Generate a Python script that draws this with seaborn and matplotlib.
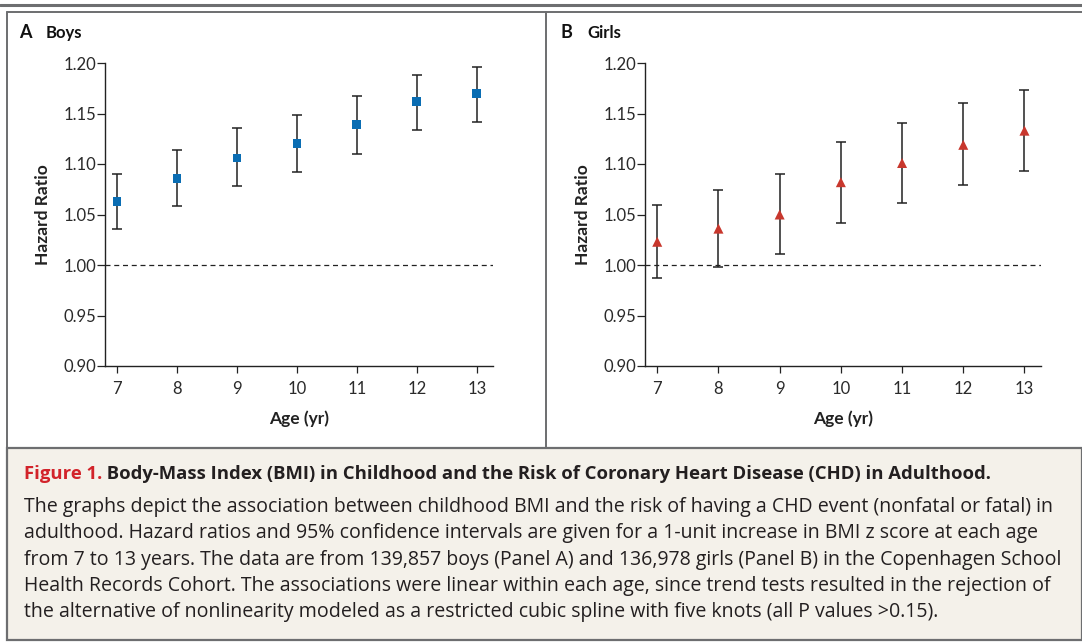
import matplotlib
matplotlib.use("Agg")
import matplotlib.pyplot as plt
import seaborn as sns
import pandas as pd
from matplotlib.patches import Rectangle
from matplotlib.lines import Line2D

ages = [7, 8, 9, 10, 11, 12, 13]
boys_hr = [1.063, 1.086, 1.106, 1.120, 1.139, 1.162, 1.170]
boys_lo = [1.036, 1.058, 1.078, 1.092, 1.110, 1.134, 1.142]
boys_hi = [1.090, 1.114, 1.136, 1.149, 1.167, 1.188, 1.196]
girls_hr = [1.023, 1.036, 1.050, 1.082, 1.101, 1.119, 1.133]
girls_lo = [0.987, 0.998, 1.011, 1.042, 1.061, 1.079, 1.093]
girls_hi = [1.059, 1.074, 1.090, 1.122, 1.141, 1.160, 1.173]
yticks = [0.90, 0.95, 1.00, 1.05, 1.10, 1.15, 1.20]

caption_title = "Body-Mass Index (BMI) in Childhood and the Risk of Coronary Heart Disease (CHD) in Adulthood."
caption_lines = [
    "The graphs depict the association between childhood BMI and the risk of having a CHD event (nonfatal or fatal) in",
    "adulthood. Hazard ratios and 95% confidence intervals are given for a 1-unit increase in BMI z score at each age",
    "from 7 to 13 years. The data are from 139,857 boys (Panel A) and 136,978 girls (Panel B) in the Copenhagen School",
    "Health Records Cohort. The associations were linear within each age, since trend tests resulted in the rejection of",
    "the alternative of nonlinearity modeled as a restricted cubic spline with five knots (all P values >0.15).",
]

sns.set_theme(style="ticks")
plt.rcParams["font.family"] = ["Lato", "DejaVu Sans"]

W, H = 1082, 643
fig = plt.figure(figsize=(W / 100, H / 100), dpi=100)

# background frame drawn in pixel coordinates
bg = fig.add_axes([0, 0, 1, 1], zorder=-1)
bg.set_xlim(0, W)
bg.set_ylim(H, 0)
bg.axis("off")
frame = "#6d6e70"
bg.add_line(Line2D([0, W], [5, 5], color=frame, lw=2.2))
bg.add_line(Line2D([7, W], [12, 12], color=frame, lw=1.4))
bg.add_line(Line2D([7, 7], [12, 448], color=frame, lw=1.4))
bg.add_line(Line2D([546, 546], [12, 448], color=frame, lw=1.4))
bg.add_patch(Rectangle((7, 448), W - 7, 192, facecolor="#f4f1ea",
                       edgecolor=frame, lw=1.6))

panels = [
    ("A", "Boys", boys_hr, boys_lo, boys_hi, "#0a6db3", "s", 40,
     [105 / W, 1 - 366 / H, 388 / W, 303 / H], (19, 46)),
    ("B", "Girls", girls_hr, girls_lo, girls_hi, "#c8372d", "^", 52,
     [645 / W, 1 - 366 / H, 396 / W, 303 / H], (561, 587)),
]

for letter, name, hr, lo, hi, color, marker, size, rect, tx in panels:
    ax = fig.add_axes(rect)
    df = pd.DataFrame({"age": ages, "hr": hr, "lo": lo, "hi": hi})
    ax.axhline(1.0, color="#222222", lw=0.9, ls=(0, (4, 3)), zorder=1)
    ax.errorbar(df["age"], df["hr"],
                yerr=[df["hr"] - df["lo"], df["hi"] - df["hr"]],
                fmt="none", ecolor="#222222", elinewidth=1.1,
                capsize=3.6, capthick=1.1, zorder=2)
    sns.scatterplot(data=df, x="age", y="hr", marker=marker, s=size,
                    color=color, edgecolor="none", linewidth=0, ax=ax,
                    zorder=3)
    ax.set_xlim(6.8, 13.27)
    ax.set_ylim(0.90, 1.20)
    ax.set_xticks(ages)
    ax.set_yticks(yticks)
    ax.set_yticklabels([f"{v:.2f}" for v in yticks])
    ax.tick_params(axis="both", labelsize=12, colors="#222222",
                   labelcolor="#2a2a2a", width=0.9)
    ax.tick_params(axis="y", length=5.5, pad=1)
    ax.tick_params(axis="x", length=5, pad=5.5)
    for s in ["left", "bottom"]:
        ax.spines[s].set_linewidth(1.0)
        ax.spines[s].set_color("#222222")
    sns.despine(ax=ax)
    ax.set_xlabel("Age (yr)", fontsize=12.5, fontweight="bold",
                  color="#222222", labelpad=10)
    ax.set_ylabel("Hazard Ratio", fontsize=12.5, fontweight="bold",
                  color="#222222", labelpad=9)
    bg.text(tx[0], 33, letter, fontsize=13, fontweight="bold",
            color="#111111", va="center", ha="left")
    bg.text(tx[1], 33, name, fontsize=12, fontweight="bold",
            color="#111111", va="center", ha="left")

cap_font = ["Open Sans", "DejaVu Sans"]
t1 = bg.text(24, 474, "Figure 1.", fontsize=13.3, fontweight="bold",
             color="#d2232a", va="center", ha="left", family=cap_font)
bg.annotate(" " + caption_title, xy=(1, 0.5), xycoords=t1, va="center",
            ha="left", fontsize=13.3, fontweight="bold", color="#231f20",
            family=cap_font)
for i, line in enumerate(caption_lines):
    bg.text(24, 507 + 26.3 * i, line, fontsize=14.05, color="#231f20",
            va="center", ha="left", family=cap_font)

fig.savefig("out.png", dpi=100)
